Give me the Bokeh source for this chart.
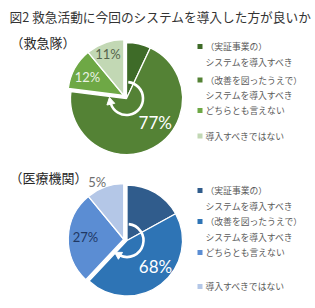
import numpy as np
from bokeh.plotting import figure
from bokeh.models import Range1d, ColumnDataSource
from bokeh.core.properties import value
from bokeh.embed import file_html
from bokeh.resources import INLINE

# ---------------- data ----------------
title_text = "図2 救急活動に今回のシステムを導入した方が良いか"
categories = [
    ["（実証事業の）", "システムを導入すべき"],
    ["（改善を図ったうえで）", "システムを導入すべき"],
    ["どちらとも言えない"],
    ["導入すべきではない"],
]
ems_name = "（救急隊）"
ems_values = [7, 70, 12, 11]
ems_labels = ["", "77%", "12%", "11%"]

hosp_name = "（医療機関）"
hosp_values = [17, 45, 27, 11]
hosp_labels = ["", "68%", "27%", "5%"]

# ---------------- styles / layout ----------------
W, H = 315, 308
JP = "Noto Sans CJK JP"
NUM = "Lato"

ems_colors = ["#3E6B28", "#548235", "#6EA845", "#C2D8B4"]
hosp_colors = ["#305C8C", "#2E74B5", "#5B8DD3", "#B4C7E7"]
explode = [0, 0, 1, 1]

ems_label_style = dict(angle=[None, 130, 297, 339], rf=[0, 0.67, 0.73, 0.79],
                       color=["white", "white", "#EAF2E4", "#56654C"],
                       size=["0px", "17px", "13px", "13px"])
hosp_label_style = dict(angle=[None, 132, 273, 335], rf=[0, 0.69, 0.69, 1.13],
                        color=["white", "white", "#1F3864", "#6E6E6E"],
                        size=["0px", "17px", "13px", "13px"])

p = figure(width=W, height=H, output_backend="svg", toolbar_location=None,
           x_range=Range1d(0, W), y_range=Range1d(0, H), min_border=0)
p.axis.visible = False
p.grid.visible = False
p.outline_line_color = None
p.background_fill_color = "white"
p.border_fill_color = "white"


def Y(img_y):
    return H - img_y


def draw_pie(cx, cy, r, vals, colors, d, labels, ls, arrow_end):
    fr = np.asarray(vals, float) / np.sum(vals)
    cum = np.concatenate([[0.0], np.cumsum(fr)]) * 360.0
    t0, t1 = cum[:-1], cum[1:]
    ex = np.asarray(explode)
    idx = np.where(ex == 1)[0]
    bis = np.radians((t0[idx].min() + t1[idx].max()) / 2.0)
    xs = cx + ex * d * np.sin(bis)
    ys = cy + ex * d * np.cos(bis)
    src = ColumnDataSource(dict(x=xs, y=ys,
                                s=np.radians(90 - t0), e=np.radians(90 - t1),
                                c=colors))
    p.wedge(x="x", y="y", radius=r, start_angle="s", end_angle="e",
            direction="clock", fill_color="c", line_color="white",
            line_width=1.3, source=src)
    # circular arrow around combined first two slices
    ar = 16.5
    p.arc(x=cx, y=cy, radius=ar, start_angle=np.radians(90 - 6),
          end_angle=np.radians(90 - arrow_end), direction="clock",
          line_color="white", line_width=2.6)
    th = np.radians(arrow_end + 6)
    p.scatter(x=[cx + ar * np.sin(th)], y=[cy + ar * np.cos(th)],
              marker="triangle", size=8, angle=[-th - np.pi / 2],
              fill_color="white", line_color="white")
    # data labels
    for i, lab in enumerate(labels):
        if not lab:
            continue
        a = ls["angle"][i]
        if a is None:
            a = (t0[i] + t1[i]) / 2
        a = np.radians(a)
        rr = ls["rf"][i] * r
        p.text(x=[xs[i] + rr * np.sin(a)], y=[ys[i] + rr * np.cos(a)],
               text=[lab], text_align="center", text_baseline="middle",
               text_font=value(NUM), text_font_size=ls["size"][i],
               text_color=ls["color"][i])


def draw_legend(x_sq, x_txt, first_ys, colors):
    for i, lines in enumerate(categories):
        y0 = first_ys[i]
        p.rect(x=[x_sq], y=[Y(y0)], width=5, height=5,
               fill_color=colors[i], line_color=None)
        for k, ln in enumerate(lines):
            p.text(x=[x_txt], y=[Y(y0 + 15.5 * k)], text=[ln],
                   text_align="left", text_baseline="middle",
                   text_font=value(JP), text_font_size="8.8px",
                   text_color="#595959")


# title
p.text(x=[9], y=[Y(16)], text=[title_text], text_align="left",
       text_baseline="middle", text_font=value(JP), text_font_size="12.7px",
       text_color="#333333")
p.text(x=[10], y=[Y(42)], text=[ems_name], text_align="left",
       text_baseline="middle", text_font=value(JP), text_font_size="13px",
       text_color="#262626")
p.text(x=[9], y=[Y(177)], text=[hosp_name], text_align="left",
       text_baseline="middle", text_font=value(JP), text_font_size="13px",
       text_color="#262626")

draw_pie(126, Y(98), 56, ems_values, ems_colors, 4.0, ems_labels,
         ems_label_style, 252)
draw_pie(126.5, Y(240), 55.5, hosp_values, hosp_colors, 3.5, hosp_labels,
         hosp_label_style, 205)

draw_legend(199.5, 205, [46, 79.5, 110, 135.5], ems_colors)
draw_legend(199.5, 205, [190, 221, 252, 286], hosp_colors)

open("out.html", "w").write(file_html(p, INLINE))
